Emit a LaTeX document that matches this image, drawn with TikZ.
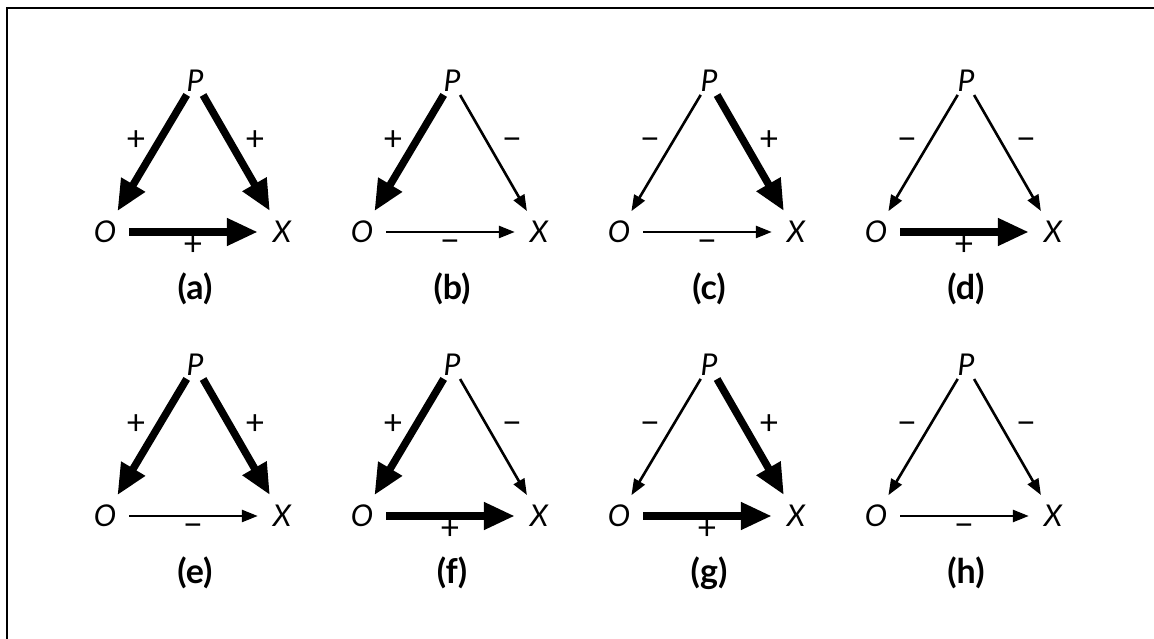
\documentclass[tikz,border=0pt]{standalone}
\usepackage{fontspec}
\setmainfont{Lato}
\usetikzlibrary{arrows.meta}
\newcommand{\vtx}{\fontsize{30}{36}\selectfont\itshape}
\newcommand{\tagfont}{\fontsize{34}{40}\selectfont\bfseries}
\newcommand{\sgnfont}{\fontsize{34}{40}\selectfont}
\newcommand{\sgnp}{+}
\newcommand{\sgnm}{−}
\tikzset{
  vertex/.style={circle,inner sep=0,minimum size=48pt,font=\vtx},
  apex/.style={vertex,minimum size=32pt},
  linkp/.style={line width=7.5pt,-{Triangle[length=31pt,width=26pt]}},
  linkm/.style={line width=2.6pt,-{Triangle[length=16pt,width=12pt]}},
  sign/.style={inner sep=0,font=\sgnfont,text height=0.7em,text depth=0pt},
  botp/.style={yshift=-3pt},
  botm/.style={yshift=0pt},
  paneltag/.style={inner sep=0,font=\tagfont},
}

\begin{document}
\begin{tikzpicture}[x=1pt,y=1pt]
\useasboundingbox (0,0) rectangle (1154,639);
\draw[line width=2pt] (7,0) -- (7,631) -- (1154,631);
% one triad per panel: tag / x / y / P-O / P-X / O-X
\foreach \t/\cx/\cy/\sa/\sb/\sc in {a/195/558/p/p/p, b/452/558/p/m/m, c/709/558/m/p/m, d/966/558/m/m/p,
    e/195/274/p/p/m, f/452/274/p/m/p, g/709/274/m/p/p, h/966/274/m/m/m}{
  \node[apex] (P\t) at (\cx,\cy) {P};
  \node[vertex] (O\t) at (\cx-90,\cy-151) {O};
  \node[vertex] (X\t) at (\cx+87,\cy-151) {X};
  \draw[link\sa] (P\t) -- (O\t);
  \draw[link\sb] (P\t) -- (X\t);
  \draw[link\sc] (O\t) -- (X\t);
  \node[sign] (SO\t) at (\cx-59,\cy-66) {\csname sgn\sa\endcsname};
  \node[sign] (SX\t) at (\cx+60,\cy-66) {\csname sgn\sb\endcsname};
  \node[sign,bot\sc] (SB\t) at (\cx-2,\cy-168) {\csname sgn\sc\endcsname};
  \node[paneltag] (L\t) at (\cx,\cy-208) {(\t)};
}
\end{tikzpicture}
\end{document}
